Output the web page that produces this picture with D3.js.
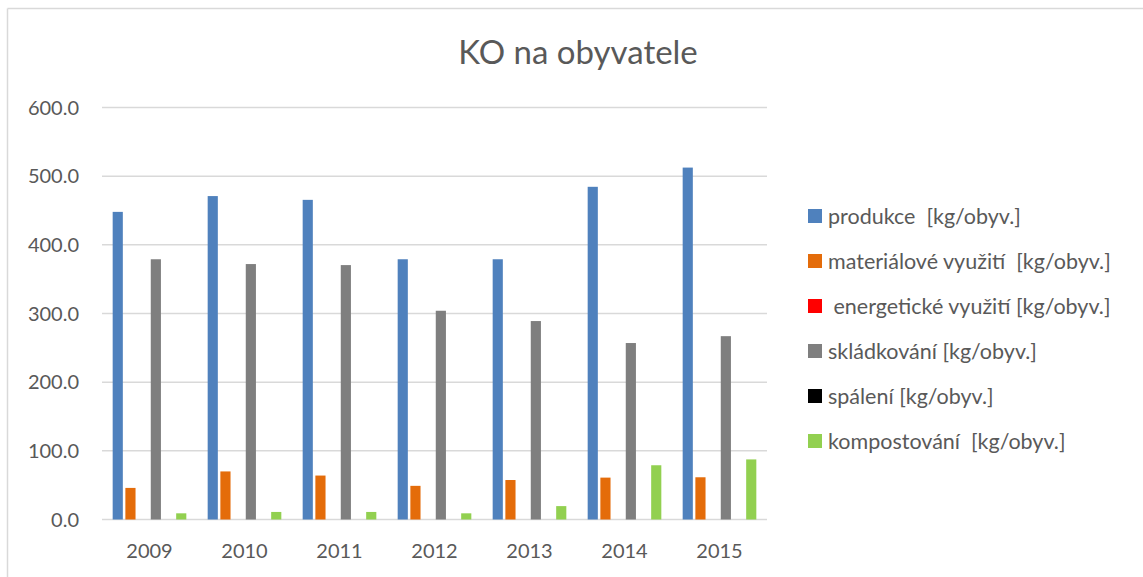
<!DOCTYPE html>
<html>
<head>
<meta charset="utf-8">
<script src="https://cdn.jsdelivr.net/npm/d3@7"></script>
<style>
  body { margin: 0; background: #fff; }
  text { font-family: Lato, "Open Sans", sans-serif; fill: #595959; }
</style>
</head>
<body>
<svg id="chart" width="1143" height="577"></svg>
<script>
var years = ["2009", "2010", "2011", "2012", "2013", "2014", "2015"];
var seriesNames = [
    "produkce  [kg/obyv.]",
    "materiálové využití  [kg/obyv.]",
    " energetické využití [kg/obyv.]",
    "skládkování [kg/obyv.]",
    "spálení [kg/obyv.]",
    "kompostování  [kg/obyv.]"
];
var seriesColors = ["#4f81bd", "#e46c0a", "#ff0000", "#7f7f7f", "#000000", "#92d050"];

var produkce = [448, 471, 465.5, 379, 379, 484.5, 512.5];
var materialove = [46, 70, 64, 49, 57.5, 61, 61.5];
var energeticke = [0, 0, 0, 0, 0, 0, 0];
var skladkovani = [379, 372, 370.5, 304, 289, 257, 267];
var spaleni = [0, 0, 0, 0, 0, 0, 0];
var kompostovani = [9, 11, 11, 9, 19.5, 79, 87.5];

var yTicks = [0, 100, 200, 300, 400, 500, 600];

var allSeries = [produkce, materialove, energeticke, skladkovani, spaleni, kompostovani];

var svg = d3.select("#chart");

// frame of the chart area (only top and left show in the crop)
svg.append("line").attr("x1", 7.5).attr("x2", 1143).attr("y1", 8.5).attr("y2", 8.5)
    .attr("stroke", "#d9d9d9").attr("stroke-width", 1.5);
svg.append("line").attr("x1", 7.5).attr("x2", 7.5).attr("y1", 8.5).attr("y2", 577)
    .attr("stroke", "#d9d9d9").attr("stroke-width", 1.5);

var plotLeft = 102, plotRight = 767, plotTop = 107.5, plotBottom = 519.5;

var x = d3.scaleBand().domain(years).range([plotLeft, plotRight]);
var xs = d3.scaleBand().domain(d3.range(seriesNames.length))
    .range([9.4, x.bandwidth() - 9.4]).paddingInner(0.2).paddingOuter(0.1);
var y = d3.scaleLinear().domain([0, 600]).range([plotBottom, plotTop]);

// gridlines
svg.append("g").selectAll("line").data(yTicks).join("line")
    .attr("x1", plotLeft).attr("x2", plotRight)
    .attr("y1", d => y(d)).attr("y2", d => y(d))
    .attr("stroke", "#d9d9d9").attr("stroke-width", 1.5);

// y labels
svg.append("g").selectAll("text").data(yTicks).join("text")
    .attr("x", 79).attr("y", d => y(d)).attr("dy", "0.35em")
    .attr("text-anchor", "end").style("font-size", "20px")
    .text(d => d.toFixed(1));

// bars
var groups = svg.append("g").selectAll("g").data(years).join("g")
    .attr("transform", d => "translate(" + x(d) + ",0)");
groups.selectAll("rect")
    .data((d, i) => allSeries.map((s, k) => ({k: k, v: s[i]})))
    .join("rect")
    .attr("x", d => xs(d.k))
    .attr("width", xs.bandwidth())
    .attr("y", d => y(d.v))
    .attr("height", d => y(0) - y(d.v))
    .attr("fill", d => seriesColors[d.k]);

// x labels
svg.append("g").selectAll("text").data(years).join("text")
    .attr("x", d => x(d) + x.bandwidth() / 2).attr("y", 558)
    .attr("text-anchor", "middle").style("font-size", "20px")
    .text(d => d);

// title
svg.append("text").attr("x", 578).attr("y", 64)
    .attr("text-anchor", "middle").style("font-size", "33px")
    .text("KO na obyvatele");

// legend
var legend = svg.append("g").selectAll("g").data(seriesNames).join("g")
    .attr("transform", (d, i) => "translate(808," + (216 + i * 45) + ")");
legend.append("rect").attr("x", 0).attr("y", -7).attr("width", 14).attr("height", 14)
    .attr("fill", (d, i) => seriesColors[i]);
legend.append("text").attr("x", 20).attr("y", 0).attr("dy", "0.35em")
    .style("font-size", "21.5px").style("white-space", "pre")
    .attr("xml:space", "preserve")
    .text(d => d);
</script>
</body>
</html>
